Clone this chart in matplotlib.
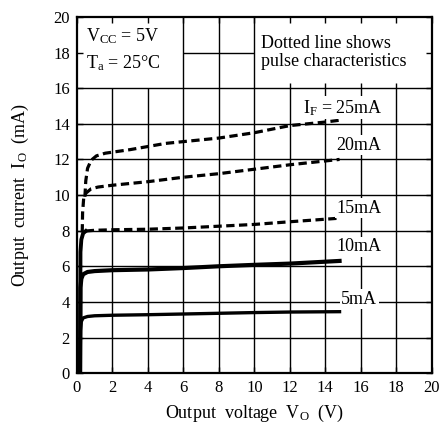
import numpy as np
import matplotlib.pyplot as plt

plt.rcParams['font.family'] = ['Liberation Serif', 'DejaVu Serif']
plt.rcParams['mathtext.fontset'] = 'custom'
plt.rcParams['mathtext.rm'] = 'Liberation Serif'
plt.rcParams['mathtext.it'] = 'Liberation Serif'

# curves: (output voltage V, output current mA)
v_5 = [0.18, 0.2, 0.25, 0.35, 0.6, 1.0, 2, 4, 6, 8, 10, 12, 14.8]
i_5 = [0.0, 2.4, 2.9, 3.1, 3.18, 3.22, 3.25, 3.28, 3.32, 3.36, 3.4, 3.43, 3.45]

v_10 = [0.18, 0.2, 0.25, 0.35, 0.6, 1.0, 2, 4, 6, 8, 10, 12, 14.8]
i_10 = [0.0, 4.8, 5.3, 5.55, 5.68, 5.73, 5.78, 5.82, 5.9, 6.0, 6.08, 6.15, 6.3]

v_15s = [0.18, 0.2, 0.25, 0.35, 0.5]
i_15s = [0.0, 6.8, 7.5, 7.85, 7.98]
v_15d = [0.5, 1.0, 2, 4, 6, 8, 10, 12, 14.8]
i_15d = [7.98, 8.02, 8.05, 8.08, 8.15, 8.25, 8.35, 8.5, 8.7]

v_20 = [0.3, 0.32, 0.38, 0.5, 0.8, 1.2, 2, 4, 6, 8, 10, 12, 14.8]
i_20 = [7.9, 9.0, 9.8, 10.1, 10.35, 10.45, 10.55, 10.75, 11.0, 11.2, 11.45, 11.7, 12.0]

v_25 = [0.45, 0.5, 0.6, 0.8, 1.1, 1.6, 3, 5, 8, 10, 12, 14, 14.8]
i_25 = [9.9, 10.8, 11.5, 11.95, 12.2, 12.35, 12.55, 12.9, 13.2, 13.5, 13.9, 14.1, 14.2]

x_ticks = np.arange(0, 21, 2)
y_ticks = np.arange(0, 21, 2)

labels = ['$\\mathregular{I_F}$ = 25mA', '20mA', '15mA', '10mA', '5mA']
label_x = [15.0, 15.9, 15.9, 15.9, 15.9]
label_y = [14.9, 12.8, 9.25, 7.1, 4.15]

fig = plt.figure(figsize=(4.42, 4.24), dpi=100)
ax = fig.add_axes([0.174, 0.12, 0.803, 0.84])
ax.set_xlim(0, 20)
ax.set_ylim(0, 20)

# grid, with boxes left open in the top band
for x in x_ticks[1:-1]:
    top = 20 if x in (6, 8, 10) else 16
    ax.vlines(x, 0, top, color='black', lw=1.0, zorder=1)
for y in y_ticks[1:-2]:
    ax.hlines(y, 0, 20, color='black', lw=1.0, zorder=1)
ax.hlines(18, 6, 10, color='black', lw=1.0, zorder=1)
# small tick marks on the box edge at the upper right
ax.vlines(x_ticks[6:10], 16, 16.3, color='black', lw=1.0, zorder=1)

dash = (0, (2.6, 1.4))
ax.plot(v_5, i_5, color='black', lw=2.4, zorder=3)
ax.plot(v_10, i_10, color='black', lw=3.0, zorder=3)
ax.plot(v_15s, i_15s, color='black', lw=2.8, zorder=3)
ax.plot(v_15d, i_15d, color='black', lw=2.3, ls=dash, zorder=3)
ax.plot(v_20, i_20, color='black', lw=2.3, ls=dash, zorder=3)
ax.plot(v_25, i_25, color='black', lw=2.3, ls=dash, zorder=3)

for txt, x, y in zip(labels, label_x, label_y):
    ax.text(x, y, txt, ha='center', va='center', fontsize=13, zorder=4,
            bbox=dict(facecolor='white', edgecolor='none', pad=1.0))

ax.text(0.5, 18.9, '$\\mathregular{V_{CC}}$ = 5V', ha='left', va='center', fontsize=13)
ax.text(0.5, 17.4, '$\\mathregular{T_a}$ = 25°C', ha='left', va='center', fontsize=13)
ax.text(10.35, 18.0, 'Dotted line shows\npulse characteristics', ha='left', va='center',
        fontsize=13, linespacing=1.05)

ax.set_xticks(x_ticks)
ax.set_yticks(y_ticks)
ax.tick_params(direction='in', length=4, width=1.0, labelsize=12, top=True, right=True,
               pad=5)
for s in ax.spines.values():
    s.set_linewidth(1.6)

ax.set_xlabel('Output  voltage  $\\mathregular{V_O}$  (V)', fontsize=13, labelpad=5)
ax.set_ylabel('Output  current  $\\mathregular{I_O}$  (mA)', fontsize=13, labelpad=16)

fig.savefig('out.png', dpi=100)
